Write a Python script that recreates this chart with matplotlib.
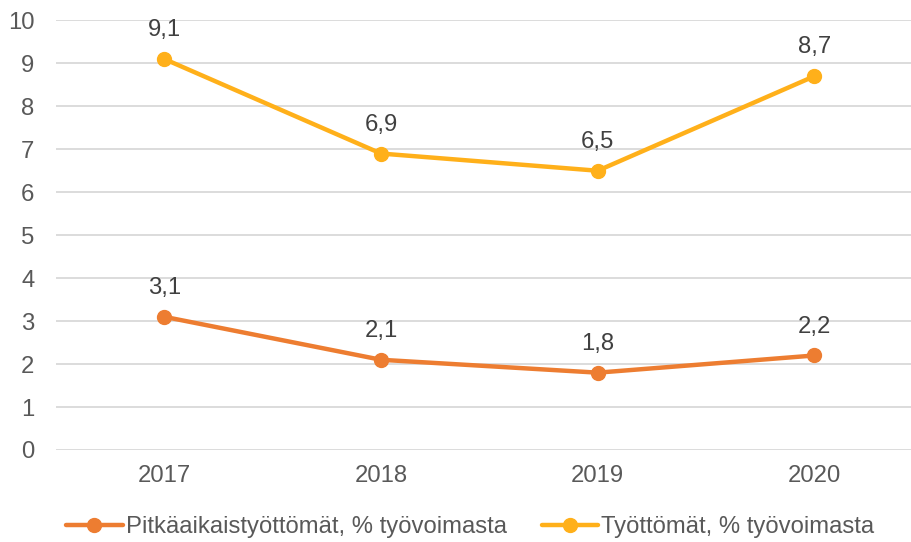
import matplotlib
matplotlib.use("Agg")
import matplotlib.pyplot as plt

years = ["2017", "2018", "2019", "2020"]
long_term = [3.1, 2.1, 1.8, 2.2]
unemployed = [9.1, 6.9, 6.5, 8.7]
labels_long = ["3,1", "2,1", "1,8", "2,2"]
labels_unemp = ["9,1", "6,9", "6,5", "8,7"]
yticks = list(range(0, 11))

plt.rcParams['font.family'] = ['Liberation Sans', 'DejaVu Sans']
text_color = "#595959"
c_long = "#ED7D31"
c_unemp = "#FFB01A"
fs = 17.2

fig = plt.figure(figsize=(9.12, 5.42), dpi=100)
ax = fig.add_axes([56/912, 1-450/542, 866.7/912, (450-19.5)/542])

x = list(range(len(years)))
ax.plot(x, long_term, color=c_long, lw=3.2, marker='o', ms=10,
        label="Pitkäaikaistyöttömät, % työvoimasta", solid_capstyle='round', zorder=3)
ax.plot(x, unemployed, color=c_unemp, lw=3.2, marker='o', ms=10,
        label="Työttömät, % työvoimasta", solid_capstyle='round', zorder=3)

for xi, v, t in zip(x, long_term, labels_long):
    ax.annotate(t, (xi, v), xytext=(0, 16.5), textcoords='offset points',
                ha='center', va='baseline', fontsize=fs, color="#404040")
for xi, v, t in zip(x, unemployed, labels_unemp):
    ax.annotate(t, (xi, v), xytext=(0, 16.5), textcoords='offset points',
                ha='center', va='baseline', fontsize=fs, color="#404040")

ax.set_xlim(-0.5, 3.5)
ax.set_ylim(0, 10.02)
ax.set_yticks(yticks)
ax.set_xticks(x)
ax.set_xticklabels(years)
ax.grid(axis='y', color="#D9D9D9", lw=1.3)
ax.set_axisbelow(True)
for s in ax.spines.values():
    s.set_visible(False)
ax.tick_params(axis='both', length=0, labelsize=fs, labelcolor=text_color)
ax.tick_params(axis='y', pad=15.5)
ax.tick_params(axis='x', pad=10.5)
for lab in ax.get_yticklabels():
    lab.set_horizontalalignment('right')

leg = fig.legend(loc='center', bbox_to_anchor=(470.5/912, 1-527/542), ncol=2, frameon=False,
                 fontsize=fs, handlelength=2.35, columnspacing=1.45, handletextpad=0.15,
                 borderaxespad=0)
for t in leg.get_texts():
    t.set_color(text_color)

fig.savefig("out.png", dpi=100)
